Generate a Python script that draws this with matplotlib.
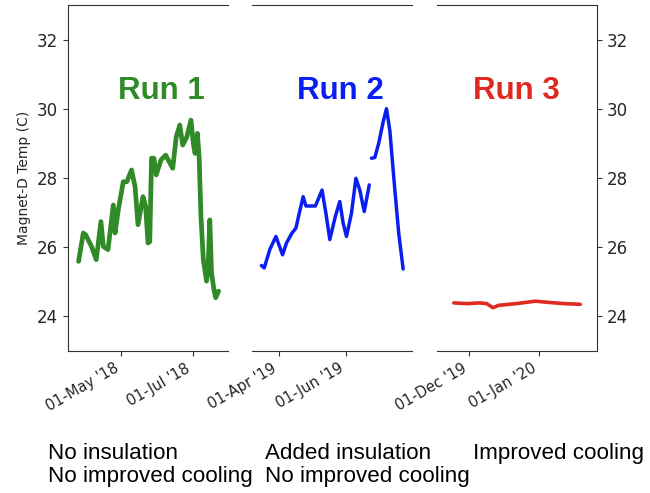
import numpy as np
import pandas as pd
import matplotlib
matplotlib.use("Agg")
import matplotlib.pyplot as plt
import matplotlib.dates as mdates

# Magnet-D temperature, three runs
run1_dates = ["2018-03-26", "2018-03-30", "2018-04-01", "2018-04-06", "2018-04-10",
              "2018-04-14", "2018-04-16", "2018-04-20", "2018-04-24 12:00", "2018-04-26",
              "2018-04-28 18:00", "2018-05-03", "2018-05-06", "2018-05-10", "2018-05-13",
              "2018-05-15 12:00", "2018-05-19 18:00", "2018-05-22", "2018-05-24", "2018-05-25 12:00",
              "2018-05-27", "2018-05-29", "2018-05-31", "2018-06-04", "2018-06-08",
              "2018-06-11", "2018-06-14", "2018-06-17", "2018-06-20", "2018-06-22 12:00",
              "2018-06-26", "2018-06-29 12:00", "2018-07-01 12:00", "2018-07-03", "2018-07-05",
              "2018-07-06 12:00", "2018-07-08", "2018-07-10", "2018-07-12 18:00", "2018-07-14",
              "2018-07-15 12:00", "2018-07-17", "2018-07-19", "2018-07-20 12:00", "2018-07-23"]
run1_temp = [25.59, 26.41, 26.36, 26.02, 25.64,
             26.74, 26.02, 25.93, 27.22, 26.41,
             27.08, 27.89, 27.89, 28.23, 27.75,
             26.65, 27.46, 27.17, 26.12, 26.16,
             28.57, 28.57, 28.09, 28.52, 28.66,
             28.47, 28.28, 29.19, 29.53, 28.95,
             29.19, 29.67, 29.00, 28.71, 29.29,
             28.57, 26.89, 25.64, 25.02, 25.35,
             26.79, 25.26, 24.78, 24.54, 24.73]

run2_dates = ["2019-03-16 12:00", "2019-03-19", "2019-03-24", "2019-03-29 12:00", "2019-04-04 12:00",
              "2019-04-08", "2019-04-13", "2019-04-16 12:00", "2019-04-19 12:00", "2019-04-23",
              "2019-04-25 12:00", "2019-05-04", "2019-05-10", "2019-05-13 12:00", "2019-05-17",
              "2019-05-22", "2019-05-26", "2019-05-29", "2019-06-01", "2019-06-05 12:00",
              "2019-06-09 12:00", "2019-06-13", "2019-06-17", "2019-06-21 12:00", "2019-06-22 18:00",
              "2019-06-23 12:00", "2019-06-26 12:00", "2019-06-30", "2019-07-04", "2019-07-07",
              "2019-07-10", "2019-07-14", "2019-07-18", "2019-07-22"]
run2_temp = [25.47, 25.40, 25.93, 26.31, 25.78,
             26.12, 26.41, 26.55, 26.98, 27.46,
             27.19, 27.19, 27.65, 26.98, 26.22,
             26.89, 27.32, 26.70, 26.31, 26.98,
             27.99, 27.65, 27.03, 27.80, np.nan,
             28.57, 28.59, 29.00, 29.62, 30.00,
             29.38, 27.85, 26.41, 25.37]

run3_dates = ["2019-11-24", "2019-11-30", "2019-12-05 12:00", "2019-12-08 18:00", "2019-12-11 12:00",
              "2019-12-14", "2019-12-22", "2019-12-30 12:00", "2020-01-04 12:00", "2020-01-12",
              "2020-01-19 12:00"]
run3_temp = [24.39, 24.37, 24.39, 24.37, 24.25,
             24.32, 24.37, 24.44, 24.41, 24.37,
             24.35]

run_labels = ["Run 1", "Run 2", "Run 3"]
run_notes = ["No insulation\nNo improved cooling",
             "Added insulation\nNo improved cooling",
             "Improved cooling"]
run_colors = ["#2f8a27", "#0b1ef2", "#e0291f"]
run_lw = [3.4, 2.5, 2.6]
label_x = [0.584, 0.55, 0.497]
xlims = [("2018-03-17", "2018-07-31"), ("2019-03-08", "2019-07-30"), ("2019-11-16 12:00", "2020-01-27")]
tick_months = [(5, 7), (4, 6), (12, 1)]

fig = plt.figure(figsize=(6.5, 4.93), dpi=100)
lefts = [0.1046, 0.3877, 0.6723]
axes = [fig.add_axes([l, 0.288, 0.2462, 0.702]) for l in lefts]

series = [(run1_dates, run1_temp), (run2_dates, run2_temp), (run3_dates, run3_temp)]
spine_col = "0.2"

for i, ax in enumerate(axes):
    d, t = series[i]
    ax.plot(pd.to_datetime(d, format="mixed"), t, color=run_colors[i], lw=run_lw[i],
            solid_capstyle="round", solid_joinstyle="round")
    ax.set_ylim(23, 33)
    ax.set_xlim(pd.to_datetime(xlims[i][0]), pd.to_datetime(xlims[i][1]))
    ax.xaxis.set_major_locator(mdates.MonthLocator(bymonth=tick_months[i], bymonthday=1))
    ax.xaxis.set_major_formatter(mdates.DateFormatter("%d-%b '%y"))
    ax.tick_params(axis="x", labelsize=10.5, colors=spine_col, labelcolor="0.15")
    for lbl in ax.get_xticklabels():
        lbl.set_rotation(30)
        lbl.set_ha("right")
    for s in ax.spines.values():
        s.set_color(spine_col)
    ax.text(label_x[i], 0.752, run_labels[i], transform=ax.transAxes, ha="center", va="center",
            color=run_colors[i], fontsize=22.5, fontweight="bold", family="Liberation Sans")
    ax.set_yticks([24, 26, 28, 30, 32])

axes[0].spines["right"].set_visible(False)
axes[0].tick_params(axis="y", labelsize=12, colors=spine_col, labelcolor="0.15")
axes[0].set_ylabel("Magnet-D Temp (C)", fontsize=10, color="0.15")

axes[1].spines["left"].set_visible(False)
axes[1].spines["right"].set_visible(False)
axes[1].tick_params(axis="y", left=False, labelleft=False)

axes[2].spines["left"].set_visible(False)
axes[2].tick_params(axis="y", left=False, labelleft=False, right=True, labelright=True,
                    labelsize=12, colors=spine_col, labelcolor="0.15")

note_x = [48, 265, 473]
for i, note in enumerate(run_notes):
    fig.text(note_x[i] / 650, 1 - 443 / 493, note, ha="left", va="top", fontsize=16.1,
             family="Liberation Sans", linespacing=1.12)

fig.savefig("out.png", dpi=100)
